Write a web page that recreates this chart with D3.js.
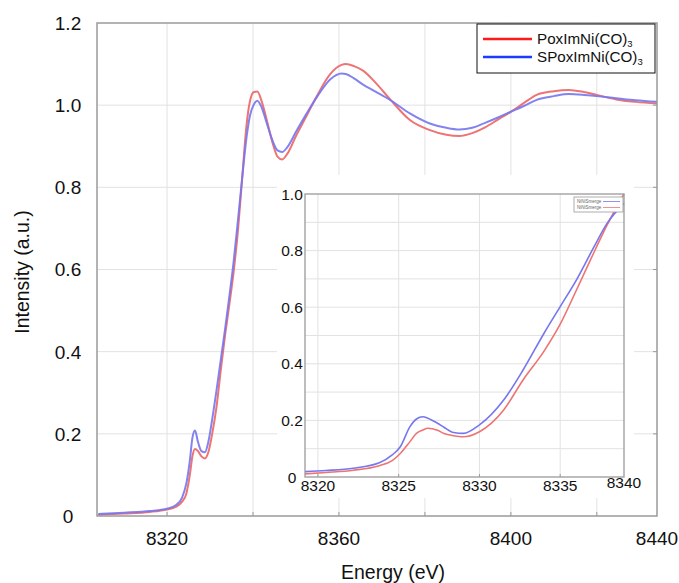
<!DOCTYPE html>
<html>
<head>
<meta charset="utf-8">
<script src="https://cdn.jsdelivr.net/npm/d3@7"></script>
<style>
  html, body { margin: 0; padding: 0; background: #fff; }
  svg { display: block; font-family: "Liberation Sans", Arial, Helvetica, sans-serif; }
</style>
</head>
<body>
<svg id="chart" width="679" height="583"></svg>
<script>
// ---------------- DATA ----------------
// Main spectrum (energy in eV)
const energy = [8304, 8310, 8316, 8320, 8322, 8323.5, 8324.5, 8325.3, 8325.9, 8326.5, 8327.2, 8328, 8328.8, 8329.6,
  8330.5, 8331.5, 8332.5, 8333.5, 8334.5, 8335.5, 8336.5, 8337.5, 8338.5, 8339.3, 8340.2, 8341, 8342, 8343.2,
  8344.5, 8345.7, 8346.8, 8348, 8350, 8352.5, 8355, 8358, 8360.6, 8361.6, 8363.5, 8365.6, 8368.5, 8372, 8376.5,
  8381, 8385, 8388, 8391, 8394, 8397, 8400, 8403, 8406, 8410, 8413.5, 8417, 8420, 8424.5, 8429, 8434];
const poxIm = [0.003, 0.006, 0.010, 0.016, 0.022, 0.035, 0.055, 0.100, 0.145, 0.163, 0.158, 0.145, 0.140, 0.155,
  0.200, 0.265, 0.355, 0.440, 0.515, 0.595, 0.695, 0.825, 0.952, 1.010, 1.032, 1.033, 1.010, 0.964,
  0.910, 0.875, 0.868, 0.882, 0.925, 0.975, 1.025, 1.076, 1.098, 1.100, 1.095, 1.084, 1.055, 1.013, 0.964,
  0.940, 0.928, 0.925, 0.932, 0.946, 0.965, 0.984, 1.005, 1.025, 1.034, 1.037, 1.032, 1.025, 1.014, 1.008, 1.004];
const sPoxIm = [0.005, 0.008, 0.012, 0.018, 0.026, 0.045, 0.080, 0.135, 0.190, 0.208, 0.180, 0.158, 0.155, 0.180,
  0.235, 0.305, 0.380, 0.455, 0.535, 0.620, 0.720, 0.825, 0.922, 0.975, 1.002, 1.011, 0.995, 0.956,
  0.915, 0.890, 0.886, 0.898, 0.935, 0.980, 1.022, 1.063, 1.077, 1.076, 1.065, 1.050, 1.033, 1.012, 0.980,
  0.956, 0.945, 0.941, 0.945, 0.957, 0.970, 0.984, 0.998, 1.013, 1.022, 1.027, 1.025, 1.022, 1.017, 1.012, 1.008];

// Inset (pre-edge zoom)
const insetEnergy = [8319.2, 8320.5, 8322.2, 8323.8, 8324.6, 8325.1, 8325.7, 8326.1, 8326.5, 8326.8, 8327.4, 8327.8,
  8328.4, 8329.0, 8330.0, 8331.5, 8332.7, 8334.0, 8335.0, 8336.0, 8337.1, 8337.9, 8338.95];
const insetPox = [0.011, 0.016, 0.024, 0.040, 0.058, 0.083, 0.125, 0.154, 0.166, 0.172, 0.165, 0.154,
  0.146, 0.142, 0.160, 0.237, 0.343, 0.445, 0.540, 0.660, 0.795, 0.890, 1.000];
const insetSPox = [0.019, 0.023, 0.031, 0.050, 0.078, 0.107, 0.178, 0.205, 0.213, 0.208, 0.190, 0.176,
  0.157, 0.154, 0.184, 0.272, 0.378, 0.508, 0.602, 0.696, 0.814, 0.896, 0.967];

const seriesNames = ["PoxImNi(CO)", "SPoxImNi(CO)"];
const xTickValues = [8320, 8360, 8400];
const xEndLabel = "8440";
const yTickValues = [0, 0.2, 0.4, 0.6, 0.8, 1.0, 1.2];
const yTickLabels = ["0", "0.2", "0.4", "0.6", "0.8", "1.0", "1.2"];
const insetXTicks = [8320, 8325, 8330, 8335];
const insetXEndLabel = "8340";
const insetYTicks = [0, 0.2, 0.4, 0.6, 0.8, 1.0];
const insetYLabels = ["0", "0.2", "0.4", "0.6", "0.8", "1.0"];
const insetLegendText = ["NiNiSmerge", "NiNiSmerge"];

// ---------------- DRAW ----------------
const svg = d3.select("#chart");
const RED_LINE = "#ee7474", BLUE_LINE = "#7676ee";
const RED_LEG = "#ff1a1a", BLUE_LEG = "#1a3cff";
const GRID = "#e2e2e2", FRAME = "#9a9a9a";

svg.append("rect").attr("width", 679).attr("height", 583).attr("fill", "#fff");

// main scales
const x = d3.scaleLinear().domain([8303.7, 8434]).range([97, 657]);
const y = d3.scaleLinear().domain([0, 1.2]).range([516, 23]);

// grid
const gridX = d3.range(8320, 8434, 20);
svg.append("g").selectAll("line").data(gridX).join("line")
  .attr("x1", d => x(d)).attr("x2", d => x(d)).attr("y1", y(1.2)).attr("y2", y(0))
  .attr("stroke", GRID).attr("stroke-width", 1);
svg.append("g").selectAll("line").data(yTickValues.slice(1, -1)).join("line")
  .attr("x1", x.range()[0]).attr("x2", x.range()[1]).attr("y1", d => y(d)).attr("y2", d => y(d))
  .attr("stroke", GRID).attr("stroke-width", 1);

// small inner ticks
svg.append("g").selectAll("line").data(gridX).join("line")
  .attr("x1", d => x(d)).attr("x2", d => x(d)).attr("y1", y(0)).attr("y2", y(0) - 4)
  .attr("stroke", FRAME);
svg.append("g").selectAll("line").data(yTickValues.slice(1, -1)).join("line")
  .attr("x1", x.range()[1]).attr("x2", x.range()[1] - 4).attr("y1", d => y(d)).attr("y2", d => y(d))
  .attr("stroke", FRAME);

// curves
const line = d3.line().x(d => x(d[0])).y(d => y(d[1])).curve(d3.curveMonotoneX);
svg.append("path").datum(energy.map((e, i) => [e, poxIm[i]]))
  .attr("d", line).attr("fill", "none").attr("stroke", RED_LINE).attr("stroke-width", 2);
svg.append("path").datum(energy.map((e, i) => [e, sPoxIm[i]]))
  .attr("d", line).attr("fill", "none").attr("stroke", BLUE_LINE).attr("stroke-width", 2).attr("stroke-opacity", 0.9);

// frame
svg.append("rect").attr("x", x.range()[0]).attr("y", y(1.2))
  .attr("width", x.range()[1] - x.range()[0]).attr("height", y(0) - y(1.2))
  .attr("fill", "none").attr("stroke", FRAME).attr("stroke-width", 1.5);

// main tick labels
svg.append("g").selectAll("text").data(yTickValues).join("text")
  .attr("x", 68).attr("y", d => y(d)).attr("dy", "0.36em")
  .attr("text-anchor", "middle").attr("font-size", 19).attr("fill", "#111")
  .text((d, i) => yTickLabels[i]);
const xLab = xTickValues.map(v => [x(v), d3.format("d")(v)]).concat([[x.range()[1], xEndLabel]]);
svg.append("g").selectAll("text").data(xLab).join("text")
  .attr("x", d => d[0]).attr("y", 538).attr("dy", "0.36em")
  .attr("text-anchor", "middle").attr("font-size", 19).attr("fill", "#111")
  .text(d => d[1]);

// axis titles
svg.append("text").attr("x", 393).attr("y", 572).attr("dy", "0.36em")
  .attr("text-anchor", "middle").attr("font-size", 19.5).attr("fill", "#111").text("Energy (eV)");
svg.append("text").attr("transform", "translate(22,272) rotate(-90)").attr("dy", "0.36em")
  .attr("text-anchor", "middle").attr("font-size", 19.5).attr("fill", "#111").text("Intensity (a.u.)");

// legend
const leg = svg.append("g");
leg.append("rect").attr("x", 477).attr("y", 24).attr("width", 178).attr("height", 49)
  .attr("fill", "#fff").attr("stroke", "#111").attr("stroke-width", 1);
[[RED_LEG, 39], [BLUE_LEG, 57]].forEach((c, i) => {
  leg.append("line").attr("x1", 483).attr("x2", 532).attr("y1", c[1]).attr("y2", c[1])
    .attr("stroke", c[0]).attr("stroke-width", 2.5);
  const t = leg.append("text").attr("x", 537).attr("y", c[1]).attr("dy", "0.36em")
    .attr("font-size", 15.2).attr("fill", "#111");
  t.append("tspan").text(seriesNames[i]);
  t.append("tspan").attr("font-size", 9.5).attr("dy", "0.25em").text("3");
});

// ---------------- INSET ----------------
svg.append("rect").attr("x", 277).attr("y", 175).attr("width", 357).attr("height", 323).attr("fill", "#fff");
const ix = d3.scaleLinear().domain([8319.2, 8338.95]).range([305, 624]);
const iy = d3.scaleLinear().domain([0, 1]).range([477, 194]);
const ins = svg.append("g");
ins.selectAll("line.gy").data(d3.range(1, 10).map(d => d / 10)).join("line")
  .attr("x1", ix.range()[0]).attr("x2", ix.range()[1]).attr("y1", d => iy(d)).attr("y2", d => iy(d))
  .attr("stroke", GRID).attr("stroke-width", 1);
ins.selectAll("line.gx").data(insetXTicks).join("line")
  .attr("x1", d => ix(d)).attr("x2", d => ix(d)).attr("y1", iy(0)).attr("y2", iy(1))
  .attr("stroke", GRID).attr("stroke-width", 1);
ins.selectAll("line.tx").data(insetXTicks).join("line")
  .attr("x1", d => ix(d)).attr("x2", d => ix(d)).attr("y1", iy(0)).attr("y2", iy(0) - 3)
  .attr("stroke", FRAME);

const iline = d3.line().x(d => ix(d[0])).y(d => iy(d[1])).curve(d3.curveMonotoneX);
ins.append("path").datum(insetEnergy.map((e, i) => [e, insetPox[i]]))
  .attr("d", iline).attr("fill", "none").attr("stroke", RED_LINE).attr("stroke-width", 1.6);
ins.append("path").datum(insetEnergy.map((e, i) => [e, insetSPox[i]]))
  .attr("d", iline).attr("fill", "none").attr("stroke", BLUE_LINE).attr("stroke-width", 1.6);

ins.append("rect").attr("x", ix.range()[0]).attr("y", iy(1))
  .attr("width", ix.range()[1] - ix.range()[0]).attr("height", iy(0) - iy(1))
  .attr("fill", "none").attr("stroke", FRAME).attr("stroke-width", 1.3);

ins.selectAll("text.yl").data(insetYTicks).join("text")
  .attr("x", 292).attr("y", d => iy(d)).attr("dy", "0.36em")
  .attr("text-anchor", "middle").attr("font-size", 15.5).attr("fill", "#111")
  .text((d, i) => insetYLabels[i]);
const ixLab = insetXTicks.map(v => [ix(v), 485, String(v)]).concat([[ix.range()[1], 482, insetXEndLabel]]);
ins.selectAll("text.xl").data(ixLab).join("text")
  .attr("x", d => d[0]).attr("y", d => d[1]).attr("dy", "0.36em")
  .attr("text-anchor", "middle").attr("font-size", 15.5).attr("fill", "#111")
  .text(d => d[2]);

// tiny inset legend
const il = ins.append("g");
il.append("rect").attr("x", 574).attr("y", 197).attr("width", 49).attr("height", 15)
  .attr("fill", "#fff").attr("stroke", "#999").attr("stroke-width", 0.8);
[[BLUE_LINE, 201.5], [RED_LINE, 207.5]].forEach((c, i) => {
  il.append("text").attr("x", 577).attr("y", c[1]).attr("dy", "0.35em")
    .attr("font-size", 4.5).attr("fill", "#666").text(insetLegendText[i]);
  il.append("line").attr("x1", 603).attr("x2", 620).attr("y1", c[1]).attr("y2", c[1])
    .attr("stroke", c[0]).attr("stroke-width", 0.8);
});
</script>
</body>
</html>
